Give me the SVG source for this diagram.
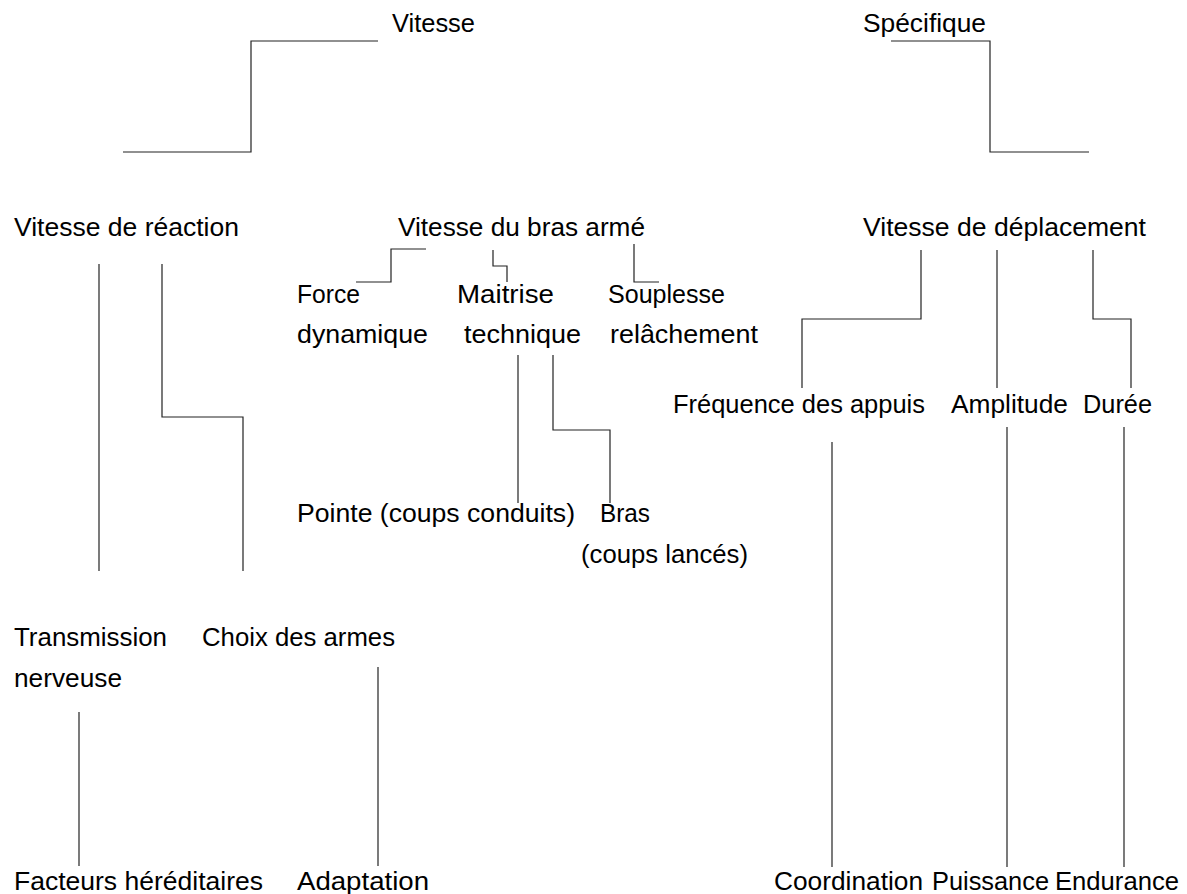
<svg xmlns="http://www.w3.org/2000/svg" width="1187" height="894" viewBox="0 0 1187 894">
<style>
text{font-family:"Liberation Sans",Arial,sans-serif;font-size:25px;fill:#000}
.c path,.c line{fill:none;stroke:#222;stroke-width:1.2}
</style>
<rect width="1187" height="894" fill="#fff"/>
<g class="c" id="connectors">
<path d="M123,152 H251 V41 H378"/>
<path d="M891,41 H990 V152 H1089"/>
<line x1="99" y1="264" x2="99" y2="571"/>
<path d="M162,264 V417 H243 V571"/>
<line x1="79" y1="712" x2="79" y2="866"/>
<line x1="378" y1="667" x2="378" y2="866"/>
<path d="M356,282 H391 V249 H426"/>
<path d="M493,250 V266 H507 V282"/>
<path d="M634,244 V282 H659"/>
<line x1="518" y1="355" x2="518" y2="503"/>
<path d="M553,355 V430 H610 V503"/>
<path d="M921,250 V319 H802 V388"/>
<line x1="997" y1="250" x2="997" y2="388"/>
<path d="M1093,250 V319 H1131 V388"/>
<line x1="832" y1="442" x2="832" y2="867"/>
<line x1="1007" y1="427" x2="1007" y2="867"/>
<line x1="1124" y1="427" x2="1124" y2="867"/>
</g>
<g id="n-vitesse"><text x="392" y="32" textLength="83" lengthAdjust="spacingAndGlyphs">Vitesse</text></g>
<g id="n-specifique"><text x="863" y="32" textLength="123" lengthAdjust="spacingAndGlyphs">Spécifique</text></g>
<g id="n-reaction"><text x="14" y="236" textLength="225" lengthAdjust="spacingAndGlyphs">Vitesse de réaction</text></g>
<g id="n-bras"><text x="398" y="236" textLength="247" lengthAdjust="spacingAndGlyphs">Vitesse du bras armé</text></g>
<g id="n-deplacement"><text x="863" y="236" textLength="283" lengthAdjust="spacingAndGlyphs">Vitesse de déplacement</text></g>
<g id="n-force"><text x="297" y="303" textLength="63" lengthAdjust="spacingAndGlyphs">Force</text><text x="297" y="343" textLength="131" lengthAdjust="spacingAndGlyphs">dynamique</text></g>
<g id="n-maitrise"><text x="457" y="303" textLength="97" lengthAdjust="spacingAndGlyphs">Maitrise</text><text x="464" y="343" textLength="117" lengthAdjust="spacingAndGlyphs">technique</text></g>
<g id="n-souplesse"><text x="608" y="303" textLength="117" lengthAdjust="spacingAndGlyphs">Souplesse</text><text x="610" y="343" textLength="148" lengthAdjust="spacingAndGlyphs">relâchement</text></g>
<g id="n-pointe"><text x="297" y="522" textLength="278" lengthAdjust="spacingAndGlyphs">Pointe (coups conduits)</text></g>
<g id="n-brasl"><text x="600" y="522" textLength="50" lengthAdjust="spacingAndGlyphs">Bras</text><text x="581" y="563" textLength="167" lengthAdjust="spacingAndGlyphs">(coups lancés)</text></g>
<g id="n-frequence"><text x="673" y="413" textLength="252" lengthAdjust="spacingAndGlyphs">Fréquence des appuis</text></g>
<g id="n-amplitude"><text x="951" y="413" textLength="117" lengthAdjust="spacingAndGlyphs">Amplitude</text></g>
<g id="n-duree"><text x="1083" y="413" textLength="69" lengthAdjust="spacingAndGlyphs">Durée</text></g>
<g id="n-transmission"><text x="14" y="646" textLength="153" lengthAdjust="spacingAndGlyphs">Transmission</text><text x="14" y="687" textLength="108" lengthAdjust="spacingAndGlyphs">nerveuse</text></g>
<g id="n-choix"><text x="202" y="646" textLength="193" lengthAdjust="spacingAndGlyphs">Choix des armes</text></g>
<g id="n-facteurs"><text x="14" y="890" textLength="249" lengthAdjust="spacingAndGlyphs">Facteurs héréditaires</text></g>
<g id="n-adaptation"><text x="297" y="890" textLength="132" lengthAdjust="spacingAndGlyphs">Adaptation</text></g>
<g id="n-coordination"><text x="774" y="890" textLength="149" lengthAdjust="spacingAndGlyphs">Coordination</text></g>
<g id="n-puissance"><text x="932" y="890" textLength="117" lengthAdjust="spacingAndGlyphs">Puissance</text></g>
<g id="n-endurance"><text x="1055" y="890" textLength="124" lengthAdjust="spacingAndGlyphs">Endurance</text></g>
</svg>
